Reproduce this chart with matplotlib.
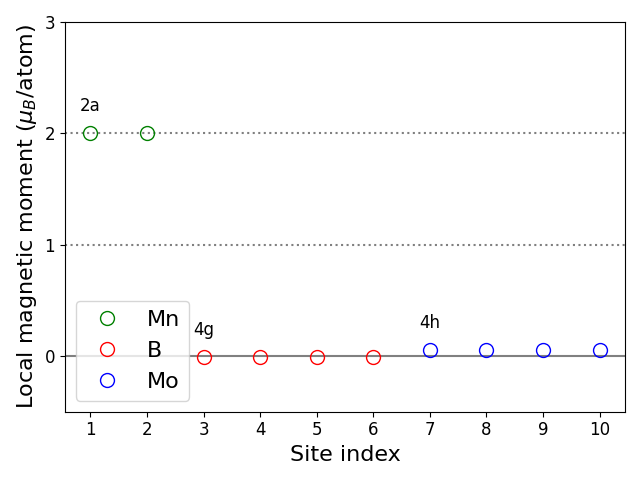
import numpy as np
import matplotlib
matplotlib.use('Agg')
import matplotlib.pyplot as plt

# site data
mn_sites = [1, 2]
mn_moments = [2.0, 2.0]
b_sites = [3, 4, 5, 6]
b_moments = [-0.01, -0.01, -0.01, -0.01]
mo_sites = [7, 8, 9, 10]
mo_moments = [0.05, 0.05, 0.05, 0.05]

wyckoff_labels = ['2a', '4g', '4h']
wyckoff_x = [1, 3, 7]
wyckoff_y = [2.25, 0.23, 0.3]

fig, ax = plt.subplots(figsize=(6.4, 4.8), dpi=100)

ax.axhline(0, color='gray', linewidth=1.5)
ax.axhline(1, color='gray', linestyle=':', linewidth=1.5)
ax.axhline(2, color='gray', linestyle=':', linewidth=1.5)

ax.plot(mn_sites, mn_moments, 'o', mfc='none', mec='green', markersize=10, label='Mn')
ax.plot(b_sites, b_moments, 'o', mfc='none', mec='red', markersize=10, label='B')
ax.plot(mo_sites, mo_moments, 'o', mfc='none', mec='blue', markersize=10, label='Mo')

for lab, x, y in zip(wyckoff_labels, wyckoff_x, wyckoff_y):
    ax.text(x, y, lab, fontsize=12, ha='center', va='center')

ax.set_ylim(-0.5, 3)
ax.set_xticks(range(1, 11))
ax.set_yticks([0, 1, 2, 3])
ax.tick_params(labelsize=12)
ax.set_xlabel('Site index', fontsize=16)
ax.set_ylabel(r'Local magnetic moment ($\mu_B$/atom)', fontsize=16)
ax.legend(loc='lower left', fontsize=16)

plt.tight_layout()
plt.savefig('out.png')
